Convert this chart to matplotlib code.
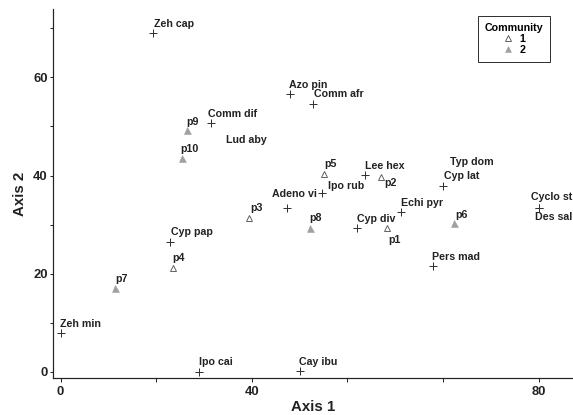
import matplotlib
matplotlib.use("Agg")
import matplotlib.pyplot as plt
from matplotlib.lines import Line2D

#----------------------------------------------------------------#
# Species scores (crosses)
species = ["Zeh cap", "Azo pin", "Comm afr", "Comm dif", "Lud aby",
           "Lee hex", "Ipo rub", "Adeno vi", "Cyp div", "Echi pyr",
           "Typ dom", "Cyp lat", "Cyclo st", "Des sal", "Pers mad",
           "Cyp pap", "Zeh min", "Ipo cai", "Cay ibu"]
sp_x = [19.4, 48.0, 52.9, 31.5, 34.6, 63.6, 54.6, 47.3, 62.1, 71.2,
        81.8, 80.1, 100.0, 100.0, 78.0, 23.0, 0.0, 29.0, 50.1]
sp_y = [69.1, 56.6, 54.5, 50.8, 45.4, 40.1, 36.4, 33.4, 29.4, 32.6,
        41.0, 37.9, 33.3, 33.3, 21.5, 26.5, 7.8, 0.0, 0.1]
hidden = ["Lud aby", "Typ dom"]   # no visible marker in the figure

# Site scores (triangles)
sites = ["p1", "p2", "p3", "p4", "p5", "p6", "p7", "p8", "p9", "p10"]
site_x = [68.3, 67.0, 39.5, 23.5, 55.2, 82.4, 11.5, 52.1, 26.4, 25.5]
site_y = [29.4, 39.8, 31.3, 21.2, 40.3, 30.3, 17.1, 29.4, 49.3, 43.6]
community = [1, 1, 1, 1, 1, 2, 2, 2, 2, 2]

xticks = [0, 20, 40, 60, 80, 100]
xticklabels = ["0", "", "40", "", "", "80"]
yticks = [0, 10, 20, 30, 40, 50, 60, 70]
yticklabels = ["0", "", "20", "", "40", "", "60", ""]

# label offsets in points (hand placed in the original)
sp_off = {"Zeh cap": (21, 9), "Azo pin": (18, 9), "Comm afr": (25, 10),
          "Comm dif": (21, 9), "Lud aby": (20, 9), "Lee hex": (20, 9),
          "Ipo rub": (25, 7), "Adeno vi": (8, 14), "Cyp div": (19, 9),
          "Echi pyr": (21, 9), "Typ dom": (20, 9), "Cyp lat": (18, 10),
          "Cyclo st": (13, 11), "Des sal": (15, -9), "Pers mad": (23, 9),
          "Cyp pap": (21, 10), "Zeh min": (20, 9), "Ipo cai": (17, 10),
          "Cay ibu": (18, 9)}
site_off = {"p1": (7, -12), "p2": (10, -6), "p3": (7, 10), "p4": (6, 10),
            "p5": (6, 10), "p6": (7, 8), "p7": (6, 9), "p8": (6, 10),
            "p9": (6, 8), "p10": (7, 9)}

#----------------------------------------------------------------#

plt.rcParams["font.family"] = ["Liberation Sans", "DejaVu Sans"]
plt.rcParams["font.weight"] = "bold"
TXT = "#222222"

fig = plt.figure(figsize=(573 / 72, 415 / 72), dpi=72)
ax = fig.add_axes([0.0925, 0.0884, 0.9075, 0.8892])

for name, x, y in zip(species, sp_x, sp_y):
    if name not in hidden:
        ax.plot(x, y, marker="+", ls="none", ms=7.5, mew=1, color="#333333")
    ax.annotate(name, (x, y), xytext=sp_off[name], textcoords="offset points",
                ha="center", va="center", fontsize=10.6, color=TXT,
                fontweight="bold")

for name, x, y, c in zip(sites, site_x, site_y, community):
    if c == 1:
        ax.plot(x, y, marker="^", ls="none", ms=6.5, mew=0.9,
                mfc="white", mec="#555555")
    else:
        ax.plot(x, y, marker="^", ls="none", ms=7, mew=0.5,
                mfc="#a0a0a0", mec="#a0a0a0")
    ax.annotate(name, (x, y), xytext=site_off[name], textcoords="offset points",
                ha="center", va="center", fontsize=10.6, color=TXT,
                fontweight="bold")

ax.set_xlim(-1.57, 107.2)
ax.set_ylim(-1.35, 73.9)
ax.set_xticks(xticks)
ax.set_xticklabels(xticklabels)
ax.set_yticks(yticks)
ax.set_yticklabels(yticklabels)
ax.tick_params(axis="both", direction="out", length=3.5, width=1,
               color="#222222", labelsize=13, labelcolor=TXT)
ax.tick_params(axis="x", pad=4)
ax.tick_params(axis="y", pad=2)
for s in ["top", "right"]:
    ax.spines[s].set_visible(False)
for s in ["left", "bottom"]:
    ax.spines[s].set_linewidth(1.2)
    ax.spines[s].set_color("#222222")

ax.set_xlabel("Axis 1", fontsize=15, fontweight="bold", color=TXT, labelpad=2)
ax.set_ylabel("Axis 2", fontsize=15, fontweight="bold", color=TXT, labelpad=6)

handles = [
    Line2D([], [], marker="^", ls="none", ms=6, mew=0.9, mfc="white",
           mec="#555555"),
    Line2D([], [], marker="^", ls="none", ms=6, mew=0.5, mfc="#a0a0a0",
           mec="#a0a0a0"),
]
leg = ax.legend(handles, ["1", "2"], title="Community", loc="upper right",
                bbox_to_anchor=(0.956, 0.982), borderaxespad=0,
                fontsize=10.6, title_fontsize=10.6, handlelength=1,
                handletextpad=0.6, labelspacing=0.1, borderpad=0.65,
                fancybox=False, framealpha=1, alignment="center")
leg.get_frame().set_edgecolor("#333333")
leg.get_frame().set_linewidth(1)
leg.get_title().set_fontweight("bold")
for t in leg.get_texts():
    t.set_fontweight("bold")

fig.savefig("out.png", dpi=72)
